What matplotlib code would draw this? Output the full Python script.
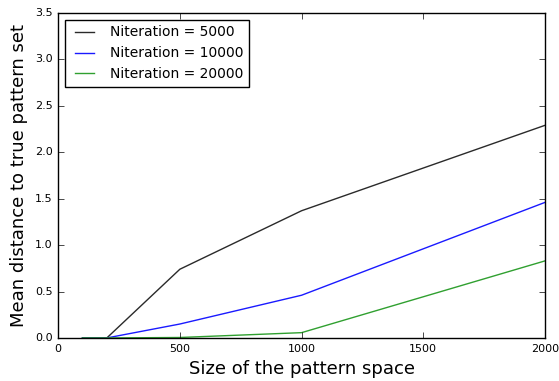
import matplotlib
matplotlib.use('Agg')
import matplotlib.pyplot as plt

plt.style.use('classic')

sizes = [100, 200, 500, 1000, 2000]
dist_5000 = [0.0, 0.0, 0.74, 1.37, 2.29]
dist_10000 = [0.0, 0.0, 0.15, 0.46, 1.46]
dist_20000 = [0.0, 0.0, 0.005, 0.057, 0.83]

fig = plt.figure(figsize=(5.59, 3.81), dpi=100)
ax = fig.add_axes([0.104, 0.113, 0.871, 0.853])

ax.plot(sizes, dist_5000, color='#2a2a2a', lw=1.0, label='Niteration = 5000')
ax.plot(sizes, dist_10000, color='#1a1aff', lw=1.0, label='Niteration = 10000')
ax.plot(sizes, dist_20000, color='#30a030', lw=1.0, label='Niteration = 20000')

ax.set_xlim(0, 2000)
ax.set_ylim(0, 3.5)
ax.set_xticks([0, 500, 1000, 1500, 2000])
ax.set_yticks([0.0, 0.5, 1.0, 1.5, 2.0, 2.5, 3.0, 3.5])
ax.tick_params(labelsize=8)
ax.set_xlabel('Size of the pattern space', fontsize=13)
ax.set_ylabel('Mean distance to true pattern set', fontsize=13)
ax.legend(loc='upper left', fontsize=10)

fig.savefig('out.png', dpi=100)
